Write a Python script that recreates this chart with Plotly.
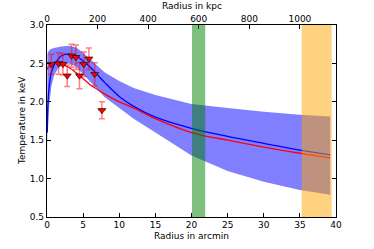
import plotly.graph_objects as go

# Model curves (arcmin, keV)
model_r = [0.05, 0.1, 0.3, 0.6, 1, 1.5, 2, 3, 4, 5, 6, 7, 8, 10, 12, 15, 20, 25, 30, 35, 39.2]
blue_T = [1.6, 1.9, 2.2, 2.38, 2.48, 2.55, 2.6, 2.62, 2.6, 2.53, 2.45, 2.35, 2.25, 2.07, 1.94, 1.8, 1.655, 1.55, 1.46, 1.37, 1.31]
red_T = [2.42, 2.44, 2.46, 2.48, 2.5, 2.5, 2.49, 2.45, 2.38, 2.3, 2.22, 2.16, 2.1, 2.0, 1.92, 1.78, 1.6, 1.5, 1.41, 1.33, 1.27]
band_hi = [2.62, 2.64, 2.67, 2.69, 2.7, 2.71, 2.72, 2.73, 2.71, 2.64, 2.55, 2.46, 2.38, 2.27, 2.18, 2.09, 1.97, 1.92, 1.87, 1.83, 1.81]
band_lo = [1.3, 1.6, 1.95, 2.2, 2.35, 2.43, 2.47, 2.5, 2.46, 2.36, 2.26, 2.16, 2.06, 1.92, 1.78, 1.6, 1.3, 1.1, 0.96, 0.85, 0.79]

# Data points
pt_r = [0.6, 1.6, 2.2, 2.8, 3.4, 4.0, 4.5, 5.1, 5.8, 6.6, 7.6]
pt_rerr = [0.3, 0.3, 0.3, 0.3, 0.3, 0.3, 0.3, 0.3, 0.3, 0.3, 0.5]
pt_T = [2.49, 2.50, 2.49, 2.34, 2.60, 2.58, 2.34, 2.49, 2.56, 2.36, 1.89]
pt_Terr = [0.13, 0.14, 0.14, 0.14, 0.15, 0.16, 0.17, 0.16, 0.14, 0.15, 0.11]

# Highlight regions (arcmin)
green_band = [20.07, 21.9]
orange_band = [35.25, 39.4]

kpc_per_arcmin = 1000 / 35.0
x_range = [0, 40]
y_ticks = [0.5, 1.0, 1.5, 2.0, 2.5, 3.0]
x_ticks = [0, 5, 10, 15, 20, 25, 30, 35, 40]
kpc_ticks = [0, 200, 400, 600, 800, 1000]

font = dict(family="DejaVu Sans", size=9, color="black")

fig = go.Figure()
fig.add_trace(go.Scatter(x=model_r, y=band_lo, mode="lines", line=dict(width=0),
                         hoverinfo="skip", showlegend=False))
fig.add_trace(go.Scatter(x=model_r, y=band_hi, mode="lines", line=dict(width=0),
                         fill="tonexty", fillcolor="rgba(0,0,255,0.5)",
                         hoverinfo="skip", showlegend=False))
fig.add_trace(go.Scatter(x=model_r, y=blue_T, mode="lines",
                         line=dict(color="blue", width=1.3), line_shape="spline",
                         showlegend=False))
fig.add_trace(go.Scatter(x=model_r, y=red_T, mode="lines",
                         line=dict(color="red", width=1.3), line_shape="spline",
                         showlegend=False))
fig.add_trace(go.Scatter(x=pt_r, y=pt_T, mode="markers",
                         marker=dict(symbol="triangle-down", size=7, color="red",
                                     line=dict(color="black", width=0.6)),
                         error_y=dict(type="data", array=pt_Terr, color="rgba(255,0,0,0.5)",
                                      thickness=1.5, width=3),
                         error_x=dict(type="data", array=pt_rerr, color="rgba(255,0,0,0.5)",
                                      thickness=1.5, width=0),
                         showlegend=False))
# invisible trace for top axis
fig.add_trace(go.Scatter(x=[0, 40 * kpc_per_arcmin], y=[0.5, 0.5], xaxis="x2",
                         mode="markers", marker=dict(opacity=0), hoverinfo="skip",
                         showlegend=False))

fig.add_vrect(x0=green_band[0], x1=green_band[1], fillcolor="rgba(0,128,0,0.5)",
              line_width=0, layer="above")
fig.add_vrect(x0=orange_band[0], x1=orange_band[1], fillcolor="rgba(255,165,0,0.5)",
              line_width=0, layer="above")

fig.add_annotation(text="Radius in kpc", xref="paper", yref="paper", x=0.5, y=1,
                   yanchor="middle", yshift=19, showarrow=False, font=font)
fig.add_annotation(text="Radius in arcmin", xref="paper", yref="paper", x=0.5, y=0,
                   yanchor="middle", yshift=-19, showarrow=False, font=font)
fig.add_annotation(text="Temperature in keV", xref="paper", yref="paper", x=0, y=0.5,
                   xanchor="center", yanchor="middle", xshift=-25, textangle=-90,
                   showarrow=False, font=font)

fig.update_layout(
    width=374, height=249,
    margin=dict(l=47, r=38, t=25, b=32),
    paper_bgcolor="white", plot_bgcolor="white",
    font=font,
    xaxis=dict(range=x_range, tickvals=x_ticks, ticks="inside", ticklen=4,
               tickcolor="black", showgrid=False, zeroline=False, automargin=False,
               ticklabelstandoff=-1,
               showline=True, linecolor="black", linewidth=1.2, mirror=True),
    xaxis2=dict(range=[0, 40 * kpc_per_arcmin], tickvals=kpc_ticks, overlaying="x",
                side="top", anchor="y", ticks="inside", ticklen=4, tickcolor="black",
                showgrid=False, zeroline=False, automargin=False),
    yaxis=dict(range=[0.5, 3.0], tickvals=y_ticks, tickformat=".1f", ticks="inside",
               ticklen=4, tickcolor="black", showgrid=False, zeroline=False, automargin=False,
               showline=True, linecolor="black", linewidth=1.2, mirror="ticks"),
)

fig.write_html("out.html", config={"displayModeBar": False},
               post_script="document.body.style.margin='0';")
